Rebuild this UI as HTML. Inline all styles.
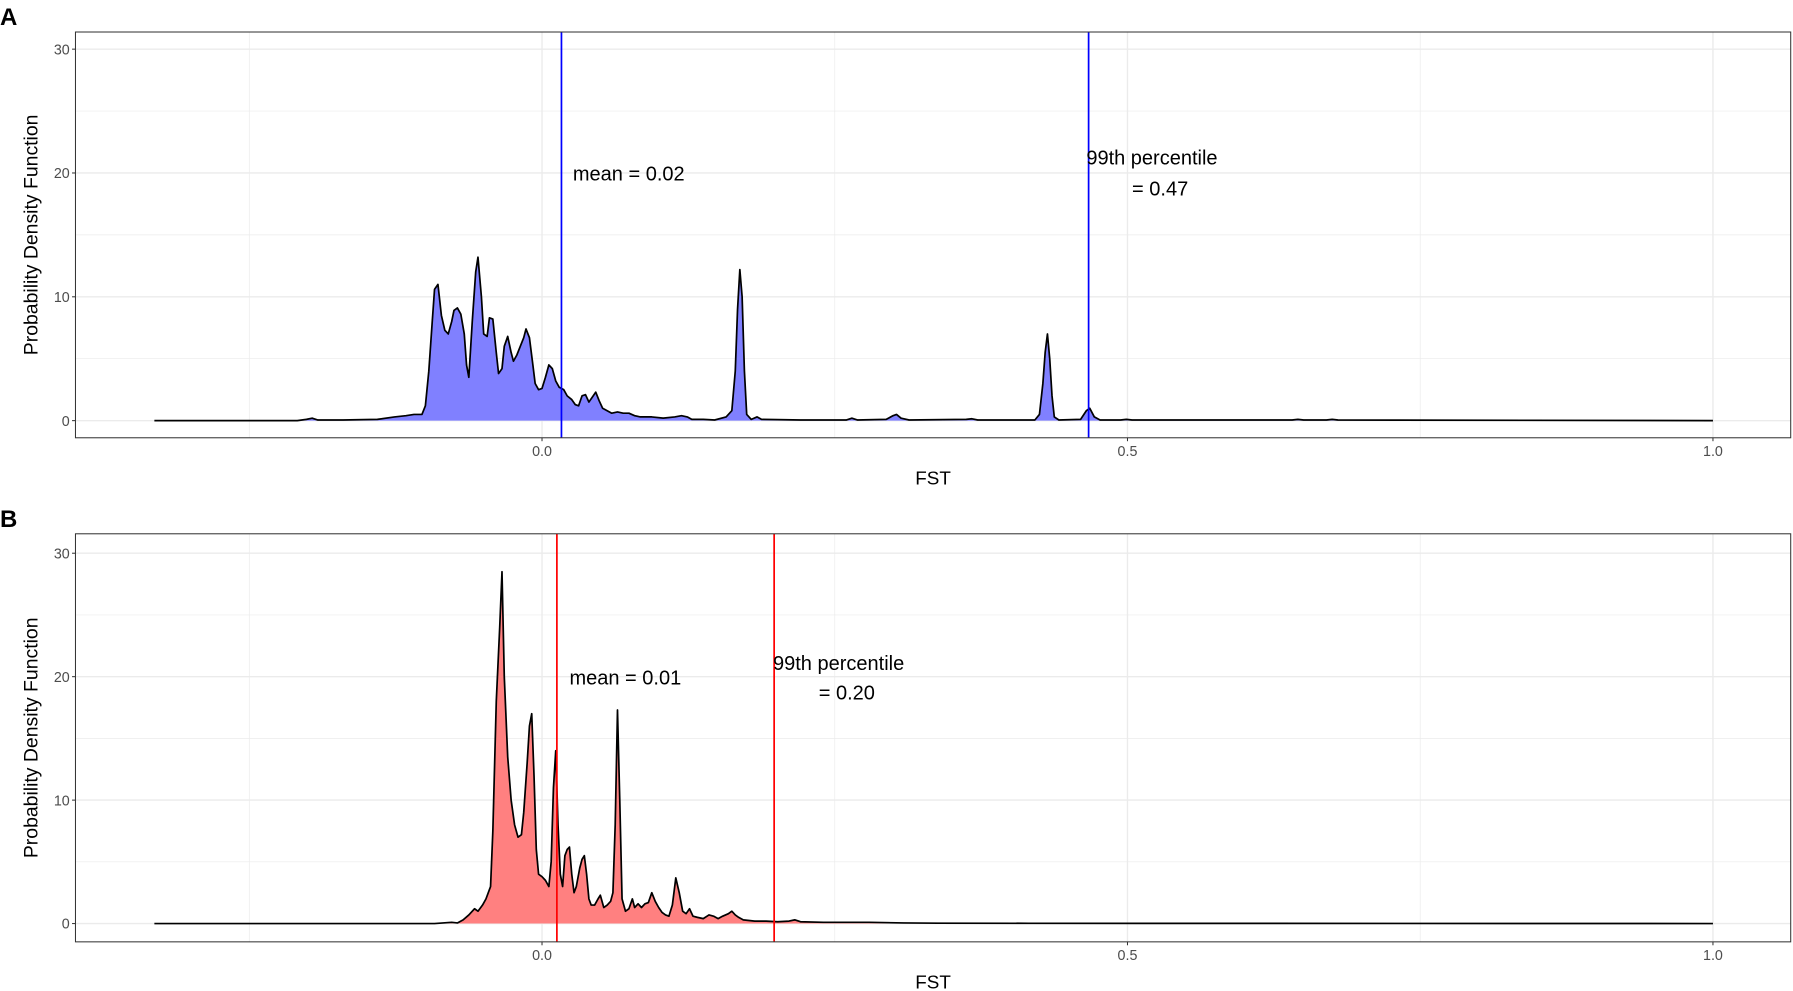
<!DOCTYPE html>
<html><head><meta charset="utf-8"><style>
html,body{margin:0;padding:0;background:#fff;}
svg{display:block;}
text{font-family:"Liberation Sans",Arial,sans-serif;}
</style></head><body>
<svg id="s" width="1793" height="991" viewBox="0 0 1568 867" preserveAspectRatio="none" xmlns="http://www.w3.org/2000/svg">
<rect width="1568" height="867" fill="#fff"/>
<g id="root"></g>
</svg>
<script>
const NS="http://www.w3.org/2000/svg";
const root=document.getElementById('root');
function el(t,a,txt){const e=document.createElementNS(NS,t);for(const k in a)e.setAttribute(k,a[k]);if(txt!==undefined)e.textContent=txt;root.appendChild(e);return e;}
const A=[[135,0],[260,0],[268,0.1],[273,0.2],[278,0.05],[300,0.05],[330,0.1],[345,0.3],[355,0.4],[362,0.5],[369,0.5],[372,1.2],[375,4],[378,8],[380,10.6],[383,11],[386,8.5],[389,7.3],[392,7],[395,8],[397,8.9],[400,9.1],[403,8.6],[406,7],[408,4.5],[410,3.5],[413,8],[416,12],[418,13.2],[421,10],[423,7],[426,6.8],[428,8.3],[431,8.2],[434,5.5],[436,3.8],[439,4.2],[441,6],[444,6.8],[447,5.5],[449,4.8],[452,5.3],[455,6],[458,6.7],[460,7.4],[463,6.7],[466,4.5],[468,3],[471,2.5],[474,2.6],[477,3.5],[480,4.5],[483,4.2],[486,3.2],[489,2.7],[493,2.5],[496,2],[500,1.7],[503,1.3],[506,1.2],[509,2],[512,2.1],[515,1.5],[518,1.9],[521,2.3],[524,1.6],[527,1.0],[531,0.8],[535,0.6],[540,0.7],[545,0.6],[550,0.6],[555,0.4],[560,0.3],[570,0.3],[580,0.2],[590,0.3],[596,0.4],[601,0.3],[605,0.1],[615,0.1],[625,0.05],[635,0.3],[640,0.8],[643,4],[645,9],[647,12.2],[649,10],[651,4],[653,0.5],[657,0.1],[662,0.3],[666,0.1],[700,0.05],[740,0.05],[745,0.2],[750,0.05],[775,0.1],[781,0.4],[784,0.5],[788,0.2],[795,0.05],[845,0.1],[850,0.15],[855,0.05],[905,0.05],[909,0.5],[912,3],[914,5.5],[916,7],[918,5],[920,2],[922,0.3],[926,0.05],[945,0.1],[950,0.8],[953,1],[957,0.3],[962,0.05],[980,0.05],[985,0.1],[990,0.05],[1130,0.05],[1135,0.1],[1140,0.05],[1160,0.05],[1165,0.1],[1170,0.05],[1498,0]];
const B=[[135,0],[380,0],[395,0.1],[400,0.05],[405,0.3],[410,0.7],[415,1.2],[418,1],[422,1.5],[425,2],[429,3],[431,7.5],[434,18],[437,24],[439,28.5],[441,20],[444,13.5],[447,10],[450,8],[453,7],[456,7.2],[458,9],[461,13],[463,16],[465,17],[467,12],[469,6],[471,4],[474,3.8],[477,3.5],[480,3],[482,5],[484,11],[486,14],[488,8],[490,4],[492,3],[494,5.5],[496,6],[498,6.2],[500,4],[502,2.5],[504,3],[507,4.5],[509,5.2],[511,5.5],[513,4],[515,2],[517,1.5],[520,1.5],[523,2],[525,2.3],[528,1.3],[531,1.5],[534,1.8],[536,2.5],[538,8],[540,17.3],[542,10],[544,2],[547,1],[550,1.2],[553,2],[555,1.3],[558,1.6],[561,1.3],[564,1.6],[567,1.7],[570,2.5],[573,1.8],[576,1.3],[579,0.9],[582,0.7],[585,0.6],[588,1.5],[591,3.7],[594,2.5],[597,1],[600,0.8],[603,1.2],[606,0.6],[610,0.5],[615,0.4],[620,0.7],[624,0.6],[628,0.4],[632,0.6],[637,0.8],[640,1],[643,0.7],[646,0.5],[650,0.3],[660,0.2],[670,0.2],[680,0.15],[690,0.2],[695,0.3],[700,0.15],[720,0.1],[740,0.1],[760,0.1],[790,0.05],[820,0.03],[900,0.02],[1498,0]];
function panel(o){
 const L=66,R=1566,T=o.top,Bt=o.bot,y0=o.y0,k=(o.y0-o.y30)/30;
 const Y=v=>y0-v*k;
 [5,15,25].forEach(v=>el('line',{x1:L,x2:R,y1:Y(v),y2:Y(v),stroke:'#ebebeb','stroke-width':0.6}));
 [218,730,1242].forEach(x=>el('line',{x1:x,x2:x,y1:T,y2:Bt,stroke:'#ebebeb','stroke-width':0.6}));
 [0,10,20,30].forEach(v=>el('line',{x1:L,x2:R,y1:Y(v),y2:Y(v),stroke:'#ebebeb','stroke-width':1.2}));
 [474,986,1498].forEach(x=>el('line',{x1:x,x2:x,y1:T,y2:Bt,stroke:'#ebebeb','stroke-width':1.2}));
 let d='M'+o.data.map(p=>p[0]+','+Y(p[1]).toFixed(2)).join(' L');
 el('path',{d:d+' L1498,'+y0+' L135,'+y0+' Z',fill:o.fill,stroke:'none'});
 el('path',{d:d,fill:'none',stroke:'#000','stroke-width':1.5,'stroke-linejoin':'round'});
 o.vl.forEach(x=>el('line',{x1:x,x2:x,y1:T,y2:Bt,stroke:o.vc,'stroke-width':1.5}));
 el('rect',{x:L,y:T,width:R-L,height:Bt-T,fill:'none',stroke:'#333','stroke-width':0.9});
 [0,10,20,30].forEach(v=>{el('line',{x1:L-3,x2:L,y1:Y(v),y2:Y(v),stroke:'#333','stroke-width':0.9});
   el('text',{x:L-5,y:Y(v)+4.5,'text-anchor':'end','font-size':12.5,fill:'#4d4d4d'},String(v));});
 [[474,'0.0'],[986,'0.5'],[1498,'1.0']].forEach(([x,t])=>{el('line',{x1:x,x2:x,y1:Bt,y2:Bt+3,stroke:'#333','stroke-width':0.9});
   el('text',{x:x,y:Bt+16,'text-anchor':'middle','font-size':12.5,fill:'#4d4d4d'},t);});
 el('text',{x:816,y:Bt+41,'text-anchor':'middle','font-size':16.5,fill:'#000'},'FST');
 const cy=(T+Bt)/2;
 el('text',{x:33,y:cy,'text-anchor':'middle','font-size':17,fill:'#000',transform:'rotate(-90 33 '+cy+')'},'Probability Density Function');
 el('text',{x:0,y:T-6,'font-size':21,'font-weight':'bold',fill:'#000'},o.lab);
 o.texts.forEach(t=>el('text',{x:t[0],y:t[1],'font-size':17.5,fill:'#000'},t[2]));
}
panel({top:28,bot:383,y0:368,y30:43,data:A,fill:'#8080ff',vc:'#0000ff',vl:[491,952],lab:'A',
 texts:[[501,158,'mean = 0.02'],[950,144,'99th percentile'],[990,171,'= 0.47']]});
panel({top:467,bot:824,y0:808,y30:484,data:B,fill:'#ff8080',vc:'#ff0000',vl:[487,677],lab:'B',
 texts:[[498,599,'mean = 0.01'],[676,586,'99th percentile'],[716,612,'= 0.20']]});
</script>
</body></html>
